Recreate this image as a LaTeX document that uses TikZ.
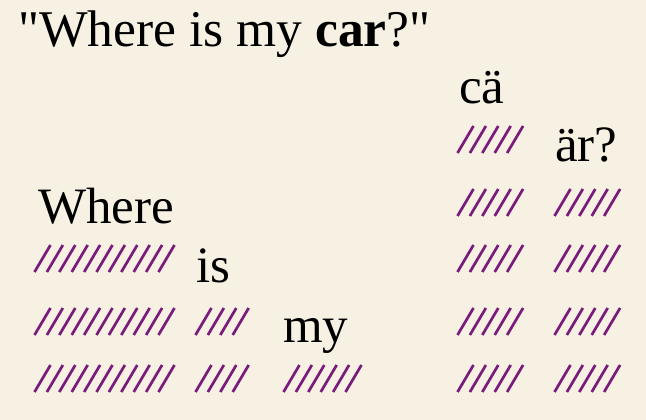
\documentclass[tikz,border=0pt]{standalone}
\usepackage{fontspec}
\setmainfont[Ligatures=TeXOff]{Liberation Serif}
\definecolor{bg}{RGB}{247,241,227}
\definecolor{hatch}{RGB}{122,28,122}
\newcommand{\hatchrow}[4]{% x0, ytop, n, name
  \foreach \k in {1,...,#3}{
    \draw[hatchline] ({#1+1.5+12.4*(\k-1)},{#2+28}) -- ({#1+17.5+12.4*(\k-1)},{#2+1});
  }
  \coordinate (#4) at (#1,#2);
}
\begin{document}
\begin{tikzpicture}[x=1pt,y=-1pt,
  word/.style={anchor=base west,inner sep=0pt,font=\fontsize{51}{60}\selectfont},
  hatchline/.style={draw=hatch,line width=2.7pt}]
\fill[bg] (0,0) rectangle (646,420);
\useasboundingbox (0,0) rectangle (646,420);
\node[word,font=\fontsize{51.5}{60}\selectfont] (title) at (18,47) {"Where is my \textbf{car}?"};
\node[word] (where) at (38,223) {Where};
\node[word] (is) at (196,282) {is};
\node[word] (my) at (283,342) {my};
\node[word] (ca) at (459,103) {cä};
\node[word] (ar) at (555,161) {är?};
% hatch rows
\hatchrow{33}{244}{11}{w1}
\hatchrow{33}{307}{11}{w2}
\hatchrow{33}{364}{11}{w3}
\hatchrow{194}{307}{4}{i1}
\hatchrow{194}{364}{4}{i2}
\hatchrow{282}{364}{6}{m1}
\hatchrow{456}{125}{5}{c1}
\hatchrow{456}{188}{5}{c2}
\hatchrow{456}{244}{5}{c3}
\hatchrow{456}{307}{5}{c4}
\hatchrow{456}{364}{5}{c5}
\hatchrow{553}{188}{5}{a1}
\hatchrow{553}{244}{5}{a2}
\hatchrow{553}{307}{5}{a3}
\hatchrow{553}{364}{5}{a4}
\end{tikzpicture}
\end{document}
